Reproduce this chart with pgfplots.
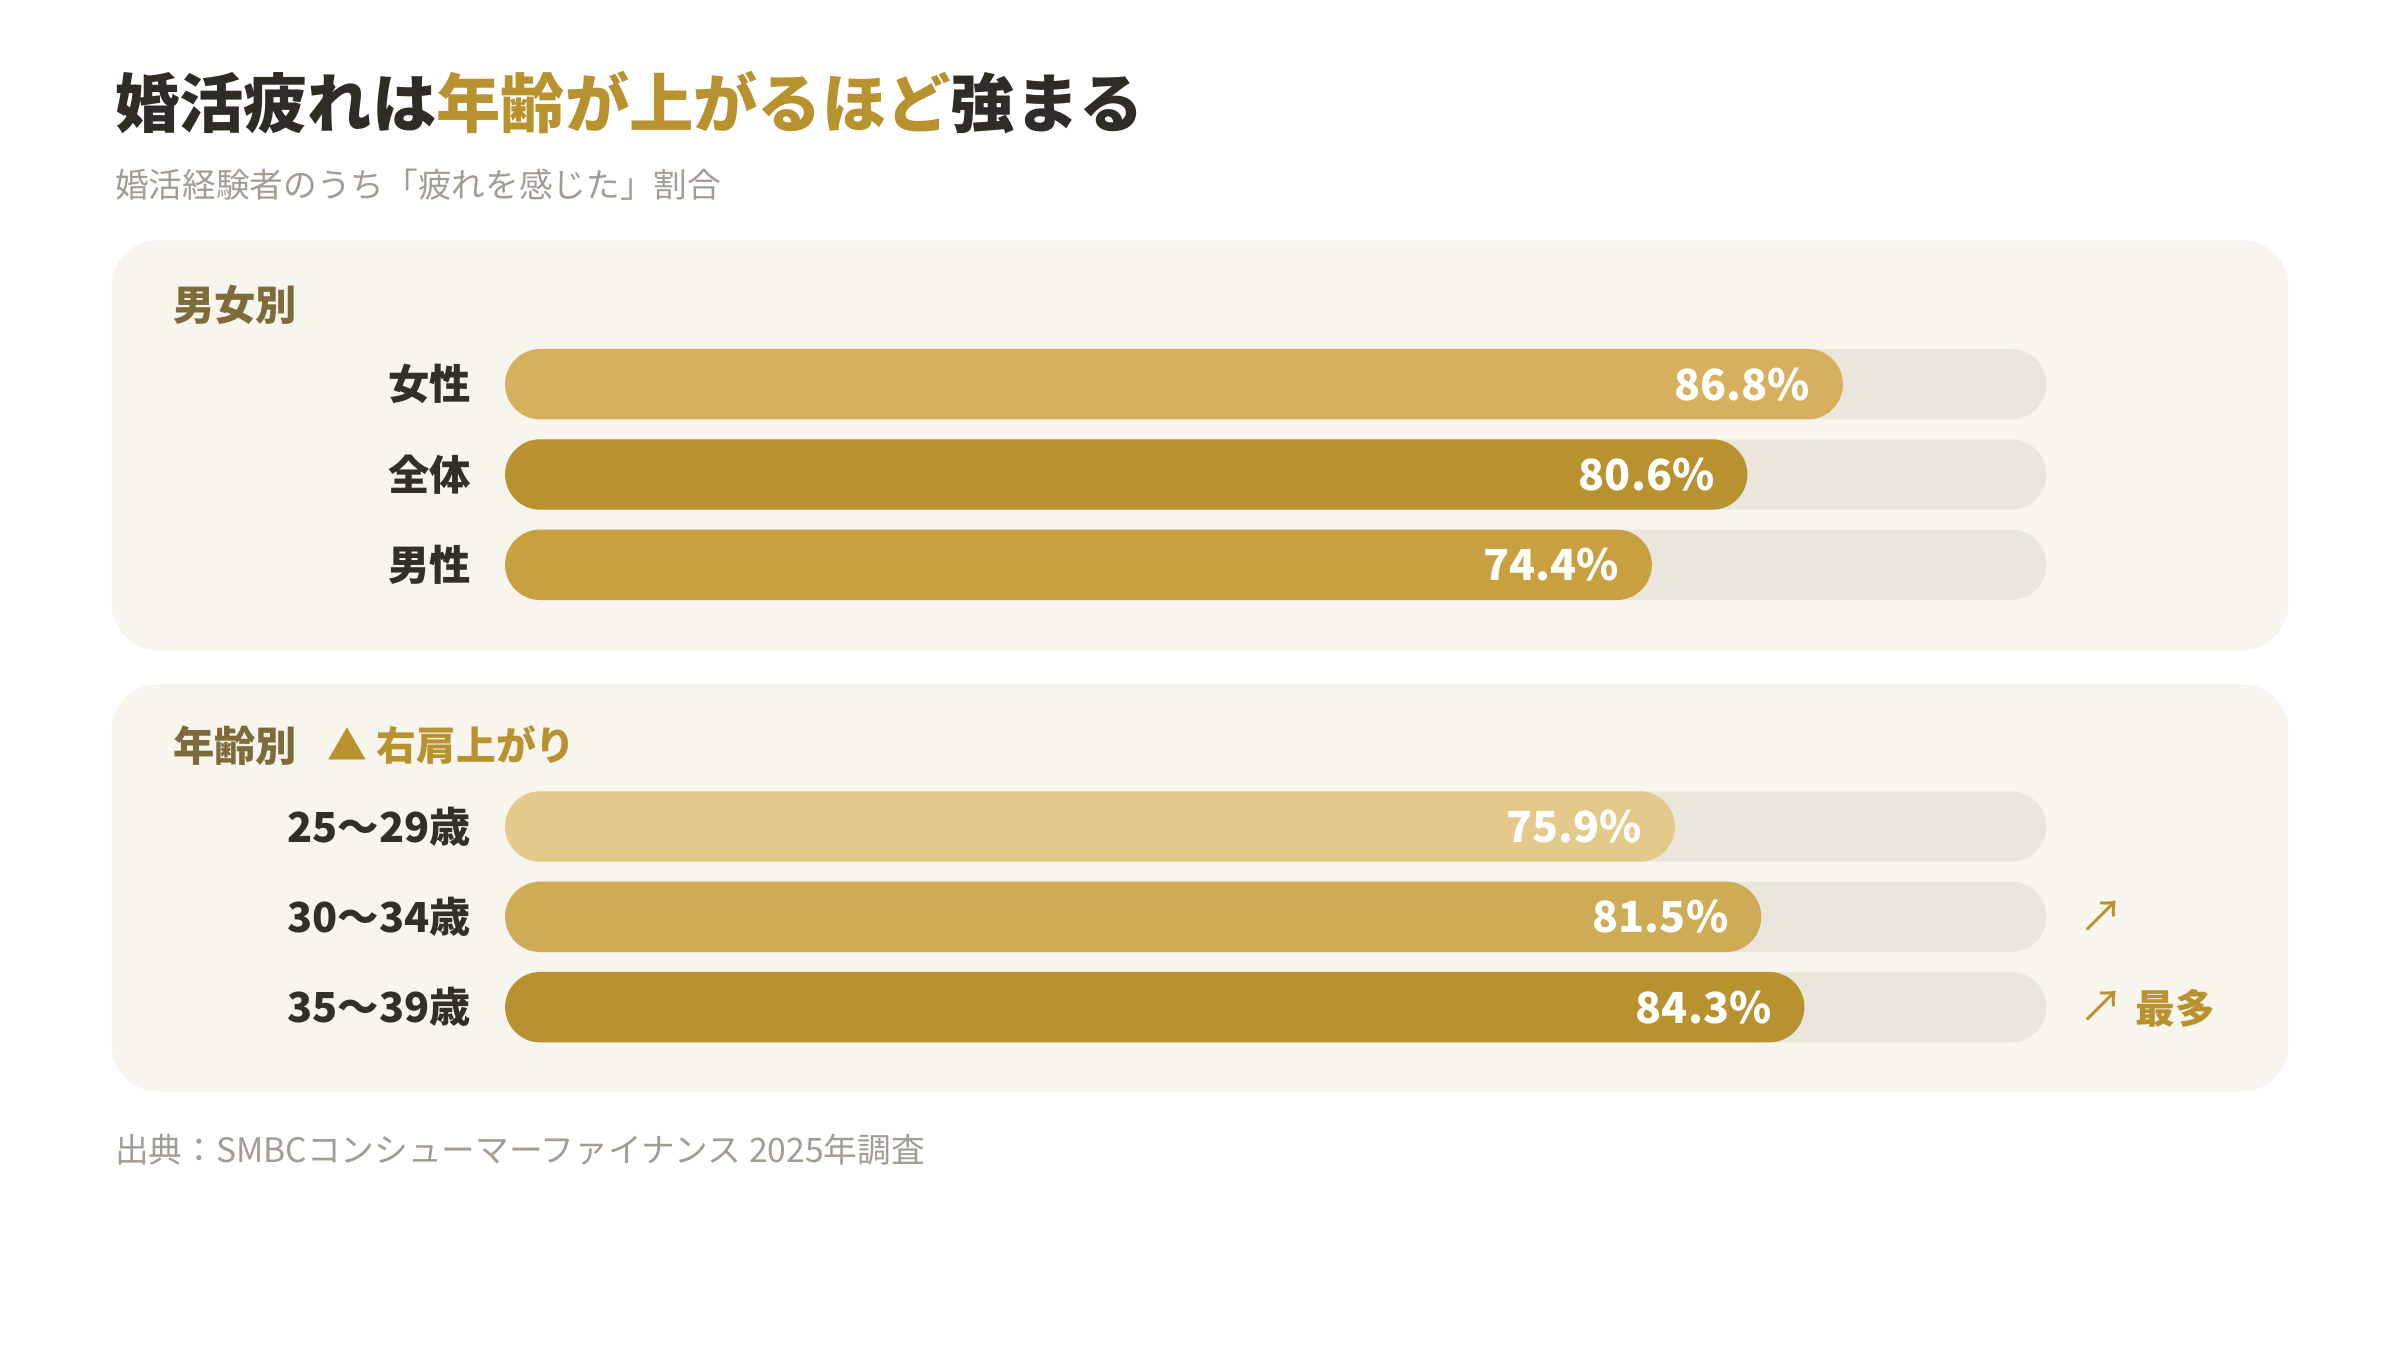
\documentclass[border=0pt]{standalone}
\usepackage{fontspec}
\setmainfont{Noto Sans CJK JP}
\usepackage{xcolor}
\usepackage{pgfplots}
\pgfplotsset{compat=1.18}

\definecolor{ink}{HTML}{2F2B25}
\definecolor{gold}{HTML}{B8922F}
\definecolor{subgray}{HTML}{A39C92}
\definecolor{panel}{HTML}{F8F5EE}
\definecolor{track}{HTML}{EAE6DB}
\definecolor{head}{HTML}{7D6B3C}
\definecolor{lab}{HTML}{332E27}
\definecolor{cF}{HTML}{D6B05C}
\definecolor{cT}{HTML}{B8922F}
\definecolor{cM}{HTML}{C9A040}
\definecolor{cA}{HTML}{E3CA8B}
\definecolor{cB}{HTML}{CEAB55}
\definecolor{cC}{HTML}{B8922F}

\pgfplotsset{
  pillbars/.style={
    scale only axis, width=1007pt, height=177pt,
    xmin=0, xmax=100, ymin=-0.5, ymax=2.5, y dir=reverse,
    xbar, bar width=46pt, bar shift=0pt,
    axis line style={draw=none}, tick style={draw=none},
    xtick=\empty, ytick={0,1,2},
    yticklabel style={font=\fontsize{27}{30}\selectfont\bfseries, text=lab, inner sep=0pt, xshift=-18pt},
    point meta=explicit symbolic,
    every node near coord/.append style={anchor=east, xshift=-18pt, text=white,
      font=\fontsize{28}{30}\selectfont\bfseries},
    clip=false,
  },
  pill/.style={draw=none, fill=#1, rounded corners=23pt},
}

\begin{document}
\begin{tikzpicture}[x=1pt, y=1pt]
\path[use as bounding box] (0,0) rectangle (1568,-882);

% titles
\node[anchor=west, inner sep=0pt, font=\fontsize{42}{46}\selectfont\bfseries] at (75,-67)
  {\color{ink}婚活疲れは\color{gold}年齢が上がるほど\color{ink}強まる};
\node[anchor=west, inner sep=0pt, text=subgray, font=\fontsize{22}{26}\selectfont] at (75,-121)
  {婚活経験者のうち「疲れを感じた」割合};

% panels
\fill[panel, rounded corners=30pt] (73,-157) rectangle (1495,-425);
\fill[panel, rounded corners=30pt] (73,-447) rectangle (1495,-713);

\node[anchor=west, inner sep=0pt, text=head, font=\fontsize{27}{30}\selectfont\bfseries] at (113,-199) {男女別};
\node[anchor=west, inner sep=0pt, text=head, font=\fontsize{27}{30}\selectfont\bfseries] at (113,-487) {年齢別};
\node[anchor=west, inner sep=0pt, text=gold, font=\fontsize{26}{30}\selectfont\bfseries] at (214,-487) {▲ 右肩上がり};

% by sex
\begin{axis}[pillbars, at={(330pt,-221.5pt)}, anchor=north west,
  yticklabels={女性,全体,男性}]
  \addplot[pill=track] coordinates {(100,0) (100,1) (100,2)};
  \addplot[pill=cF, nodes near coords] coordinates {(86.8,0) [86.8\%]};
  \addplot[pill=cT, nodes near coords] coordinates {(80.6,1) [80.6\%]};
  \addplot[pill=cM, nodes near coords] coordinates {(74.4,2) [74.4\%]};
\end{axis}

% by age
\begin{axis}[pillbars, at={(330pt,-510.5pt)}, anchor=north west,
  yticklabels={25〜29歳,30〜34歳,35〜39歳}]
  \addplot[pill=track] coordinates {(100,0) (100,1) (100,2)};
  \addplot[pill=cA, nodes near coords] coordinates {(75.9,0) [75.9\%]};
  \addplot[pill=cB, nodes near coords] coordinates {(81.5,1) [81.5\%]};
  \addplot[pill=cC, nodes near coords] coordinates {(84.3,2) [84.3\%]};
\end{axis}

% trend marks
\node[anchor=center, inner sep=0pt, text=gold, font=\fontsize{29}{30}\selectfont] at (1373,-599) {↗};
\node[anchor=center, inner sep=0pt, text=gold, font=\fontsize{29}{30}\selectfont] at (1373,-658) {↗};
\node[anchor=west, inner sep=0pt, text=gold, font=\fontsize{26}{30}\selectfont\bfseries] at (1395,-659) {最多};

% source
\node[anchor=west, inner sep=0pt, text=subgray, font=\fontsize{22}{26}\selectfont] at (75,-751)
  {出典：SMBCコンシューマーファイナンス 2025年調査};
\end{tikzpicture}
\end{document}
